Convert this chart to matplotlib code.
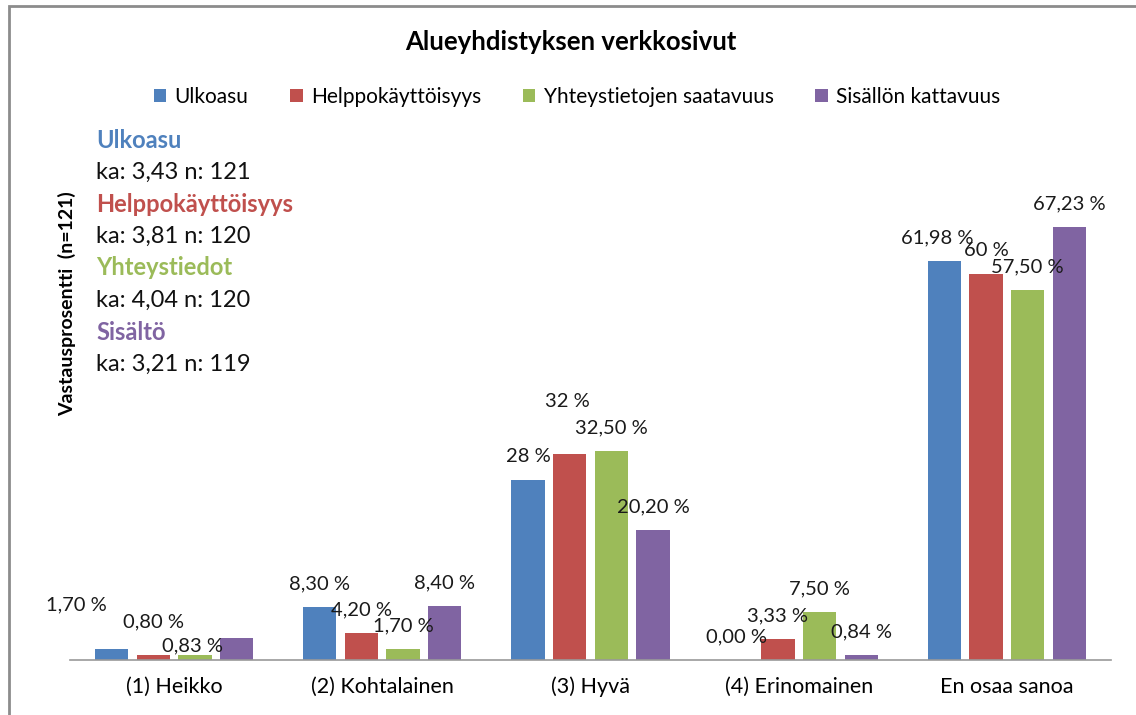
import matplotlib.pyplot as plt
import numpy as np
from matplotlib.patches import Rectangle

plt.rcParams['font.family'] = ['Lato', 'DejaVu Sans']

categories = ["(1) Heikko", "(2) Kohtalainen", "(3) Hyvä", "(4) Erinomainen", "En osaa sanoa"]
series_names = ["Ulkoasu", "Helppokäyttöisyys", "Yhteystietojen saatavuus", "Sisällön kattavuus"]
ulkoasu = [1.70, 8.30, 28.0, 0.00, 61.98]
helppo = [0.80, 4.20, 32.0, 3.33, 60.0]
yhteys = [0.83, 1.70, 32.50, 7.50, 57.50]
sisalto = [3.36, 8.40, 20.20, 0.84, 67.23]
labels_ulkoasu = ["1,70 %", "8,30 %", "28 %", "0,00 %", "61,98 %"]
labels_helppo = ["0,80 %", "4,20 %", "32 %", "3,33 %", "60 %"]
labels_yhteys = ["0,83 %", "1,70 %", "32,50 %", "7,50 %", "57,50 %"]
labels_sisalto = ["", "8,40 %", "20,20 %", "0,84 %", "67,23 %"]

summary_titles = ["Ulkoasu", "Helppokäyttöisyys", "Yhteystiedot", "Sisältö"]
summary_lines = ["ka: 3,43 n: 121", "ka: 3,81 n: 120", "ka: 4,04 n: 120", "ka: 3,21 n: 119"]

colors = ["#4F81BD", "#C0504D", "#9BBB59", "#8064A2"]

# labels that were dragged away from the default spot (series, category): (dx, dy) pixels
moved = {(0, 0): (-35, 44), (1, 0): (0, 33), (2, 0): (-2, 9), (1, 2): (-2, 52),
         (0, 4): (-7, 23)}

fig = plt.figure(figsize=(11.36, 7.15), dpi=100)
ax = fig.add_axes([70 / 1136, 55 / 715, (1111 - 70) / 1136, 515 / 715])

data = [ulkoasu, helppo, yhteys, sisalto]
labels = [labels_ulkoasu, labels_helppo, labels_yhteys, labels_sisalto]
x = np.arange(len(categories))
for i, vals in enumerate(data):
    xs = x + (i - 1.5) * 0.2
    ax.bar(xs, vals, width=0.16, color=colors[i], label=series_names[i], zorder=2)
    for j, v in enumerate(vals):
        if not labels[i][j]:
            continue
        dx, dy = moved.get((i, j), (0, 23))
        ax.annotate(labels[i][j], (xs[j], v), xytext=(dx, dy), textcoords="offset pixels",
                    ha="center", va="center", fontsize=14.5, color="#1a1a1a")

ax.set_xlim(-0.5, 4.5)
ax.set_ylim(0, 80)
ax.set_xticks(x)
ax.set_xticklabels(categories, fontsize=15.5)
ax.tick_params(axis="x", length=0, pad=12)
ax.set_yticks([])
for s in ["top", "right", "left"]:
    ax.spines[s].set_visible(False)
ax.spines["bottom"].set_color("#999999")
ax.spines["bottom"].set_linewidth(1.2)
ax.patch.set_alpha(0)

fig.text(571 / 1136, 1 - 42 / 715, "Alueyhdistyksen verkkosivut", ha="center", va="center",
         fontsize=18.5, fontweight="bold")

fig.legend(loc="center", bbox_to_anchor=(577 / 1136, 1 - 97 / 715), ncol=4, frameon=False,
           fontsize=15, handlelength=0.6, handleheight=0.6, handletextpad=0.4, columnspacing=2.0)

fig.text(67 / 1136, 1 - 304 / 715, "Vastausprosentti  (n=121)", rotation=90, ha="center",
         va="center", fontsize=14, fontweight="bold")

y0 = 140
for k in range(4):
    fig.text(96 / 1136, 1 - (y0 + k * 64) / 715, summary_titles[k], color=colors[k],
             fontsize=17, fontweight="bold", va="center")
    fig.text(96 / 1136, 1 - (y0 + 32 + k * 64) / 715, summary_lines[k], color="#111111",
             fontsize=17, va="center")

fig.patches.append(Rectangle((9 / 1136, -0.1), 1.2, 1 - 6 / 715 + 0.1, transform=fig.transFigure,
                             fill=False, edgecolor="#8c8c8c", linewidth=2))

fig.savefig("out.png", dpi=100)
